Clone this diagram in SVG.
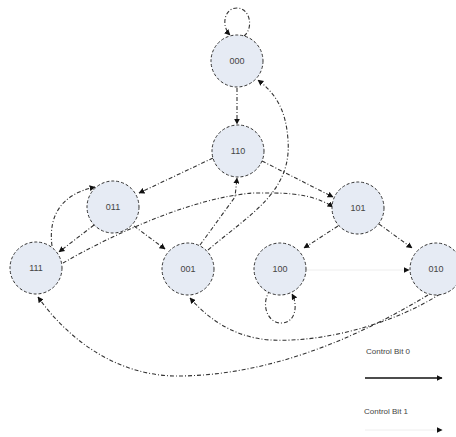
<svg xmlns="http://www.w3.org/2000/svg" width="456" height="437" viewBox="0 0 456 437">
<defs>
<style>
.node circle{fill:#e6ebf4;stroke:#333;stroke-width:1;stroke-dasharray:3 2}
.node text{font-family:"Liberation Sans",Arial,sans-serif;font-size:9px;fill:#444;text-anchor:middle}
.edge{fill:none;stroke:#333;stroke-width:1.1;stroke-dasharray:4 2 1 2}
.faint{fill:none;stroke:#eee;stroke-width:1}
.legend{font-family:"Liberation Sans",Arial,sans-serif;font-size:8px;fill:#444}
</style>
<marker id="ah" viewBox="0 0 10 10" refX="9" refY="5" markerWidth="6" markerHeight="6" orient="auto" markerUnits="userSpaceOnUse">
<path d="M0,0 L10,5 L0,10 z" fill="#111"/>
</marker>
</defs>
<rect width="456" height="437" fill="#fff"/>
<g id="connectors">
<path class="edge" d="M244,36 C254,28 250,8 237,8 C224,8 221,26 230,35" marker-end="url(#ah)"/>
<path class="edge" d="M237,88 L237,124" marker-end="url(#ah)"/>
<path class="edge" d="M213,158 L139,193" marker-end="url(#ah)"/>
<path class="edge" d="M262,161 L333,197" marker-end="url(#ah)"/>
<path class="edge" d="M94,225 L59,252" marker-end="url(#ah)"/>
<path class="edge" d="M52,246 C48,215 62,194 95,187" marker-end="url(#ah)"/>
<path class="edge" d="M134,226 L165,249" marker-end="url(#ah)"/>
<path class="edge" d="M63,263 C110,236 190,198 253,193 L272,193 C300,193 320,198 333,207" marker-end="url(#ah)"/>
<path class="edge" d="M200,245 L235,197 L237,178" marker-end="url(#ah)"/>
<path class="edge" d="M208,250 C250,214 292,192 288,140 C286,110 276,94 258,80" marker-end="url(#ah)"/>
<path class="edge" d="M338,226 L304,248" marker-end="url(#ah)"/>
<path class="edge" d="M379,224 L412,248" marker-end="url(#ah)"/>
<path class="edge" d="M270,290 C260,305 268,323 281,323 C296,323 298,305 292,294" marker-end="url(#ah)"/>
<path class="faint" d="M306,270 L409,270" marker-end="url(#ah)"/>
<path class="edge" d="M440,294 C400,320 330,343 270,340 C230,337 205,315 190,298" marker-end="url(#ah)"/>
<path class="edge" d="M428,295 C370,330 280,375 180,376 C120,377 70,342 38,297" marker-end="url(#ah)"/>
</g>
<g id="n000" class="node"><circle cx="237" cy="61" r="26"/><text x="237" y="64">000</text></g>
<g id="n110" class="node"><circle cx="238" cy="151" r="26"/><text x="238" y="154">110</text></g>
<g id="n011" class="node"><circle cx="113" cy="207" r="26"/><text x="113" y="210">011</text></g>
<g id="n101" class="node"><circle cx="358" cy="208" r="26"/><text x="358" y="211">101</text></g>
<g id="n111" class="node"><circle cx="36" cy="268" r="26"/><text x="36" y="271">111</text></g>
<g id="n001" class="node"><circle cx="188" cy="269" r="26"/><text x="188" y="272">001</text></g>
<g id="n100" class="node"><circle cx="280" cy="269" r="26"/><text x="280" y="272">100</text></g>
<g id="n010" class="node"><circle cx="436" cy="269" r="26"/><text x="436" y="272">010</text></g>
<g id="legend">
<text class="legend" x="366" y="354">Control Bit 0</text>
<path d="M365,378 L442,378" stroke="#111" stroke-width="1.3" fill="none" marker-end="url(#ah)"/>
<text class="legend" x="364" y="414">Control Bit 1</text>
<path class="faint" d="M365,430 L442,430" marker-end="url(#ah)"/>
</g>
</svg>
